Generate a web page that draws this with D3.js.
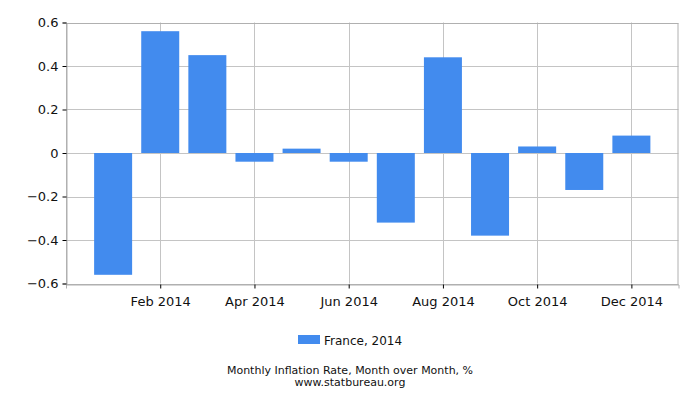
<!DOCTYPE html>
<html>
<head>
<meta charset="utf-8">
<script src="https://cdn.jsdelivr.net/npm/d3@7"></script>
<style>
  body { margin: 0; background: #fff; }
  svg text { font-family: "DejaVu Sans", sans-serif; fill: #111; }
</style>
</head>
<body>
<div id="chart"></div>
<script>
// monthly values, France 2014
const months = ["2014-01", "2014-02", "2014-03", "2014-04", "2014-05", "2014-06",
                "2014-07", "2014-08", "2014-09", "2014-10", "2014-11", "2014-12"];
const values = [-0.56, 0.56, 0.45, -0.04, 0.02, -0.04, -0.32, 0.44, -0.38, 0.03, -0.17, 0.08];
const yTicks = [-0.6, -0.4, -0.2, 0, 0.2, 0.4, 0.6];
const xTicks = ["2014-02", "2014-04", "2014-06", "2014-08", "2014-10", "2014-12"];
const seriesName = "France, 2014";
const title = "Monthly Inflation Rate, Month over Month, %";
const source = "www.statbureau.org";

const width = 700, height = 400;
const margin = { top: 22.5, right: 21.5, bottom: 116.5, left: 66 };

const parse = d3.timeParse("%Y-%m");
const fmt = d3.timeFormat("%b %Y");

const svg = d3.select("#chart")
  .append("svg")
    .attr("width", width)
    .attr("height", height);

// months sit evenly, one empty slot at each end
const x = d3.scalePoint()
  .domain(months)
  .range([margin.left, width - margin.right])
  .padding(1);

const y = d3.scaleLinear()
  .domain([-0.6, 0.6])
  .range([height - margin.bottom, margin.top]);

// grid
svg.append("g")
  .selectAll("line")
  .data(yTicks)
  .join("line")
    .attr("x1", margin.left)
    .attr("x2", width - margin.right)
    .attr("y1", d => Math.round(y(d)) + 0.5)
    .attr("y2", d => Math.round(y(d)) + 0.5)
    .attr("stroke", "#c4c4c4");

svg.append("g")
  .selectAll("line")
  .data(xTicks)
  .join("line")
    .attr("x1", d => Math.round(x(d)) + 0.5)
    .attr("x2", d => Math.round(x(d)) + 0.5)
    .attr("y1", margin.top)
    .attr("y2", height - margin.bottom)
    .attr("stroke", "#c4c4c4");

// frame
svg.append("rect")
  .attr("x", margin.left + 0.5)
  .attr("y", Math.round(margin.top) + 0.5)
  .attr("width", width - margin.left - margin.right - 1)
  .attr("height", height - margin.top - margin.bottom)
  .attr("fill", "none")
  .attr("stroke", "#b0b0b0");

// bars
const barWidth = 38;
svg.append("g")
  .selectAll("rect")
  .data(values)
  .join("rect")
    .attr("x", (d, i) => x(months[i]) - barWidth / 2)
    .attr("y", d => y(Math.max(0, d)))
    .attr("width", barWidth)
    .attr("height", d => Math.abs(y(d) - y(0)))
    .attr("fill", "#428bee");

// axes
const xAxis = svg.append("g")
  .attr("transform", `translate(0,${Math.round(height - margin.bottom) + 0.5})`)
  .call(d3.axisBottom(x).tickValues(xTicks).tickFormat(d => fmt(parse(d))).tickSize(4).tickPadding(8));
xAxis.select(".domain").attr("stroke", "#b0b0b0");
xAxis.selectAll("text").style("font-size", "13px");

const yAxis = svg.append("g")
  .attr("transform", `translate(${margin.left + 0.5},0)`)
  .call(d3.axisLeft(y).tickValues(yTicks).tickFormat(d => d === 0 ? "0" : d3.format(".1f")(d)).tickSize(4).tickPadding(4));
yAxis.select(".domain").attr("stroke", "#b0b0b0");
yAxis.selectAll("text").style("font-size", "13px");

// legend
svg.append("rect")
  .attr("x", 298)
  .attr("y", 335)
  .attr("width", 22)
  .attr("height", 9)
  .attr("fill", "#428bee");
svg.append("text")
  .attr("x", 324)
  .attr("y", 345)
  .style("font-size", "12px")
  .text(seriesName);

// caption
svg.append("text")
  .attr("x", width / 2)
  .attr("y", 374)
  .attr("text-anchor", "middle")
  .style("font-size", "11px")
  .text(title);
svg.append("text")
  .attr("x", width / 2)
  .attr("y", 386)
  .attr("text-anchor", "middle")
  .style("font-size", "11px")
  .text(source);
</script>
</body>
</html>
